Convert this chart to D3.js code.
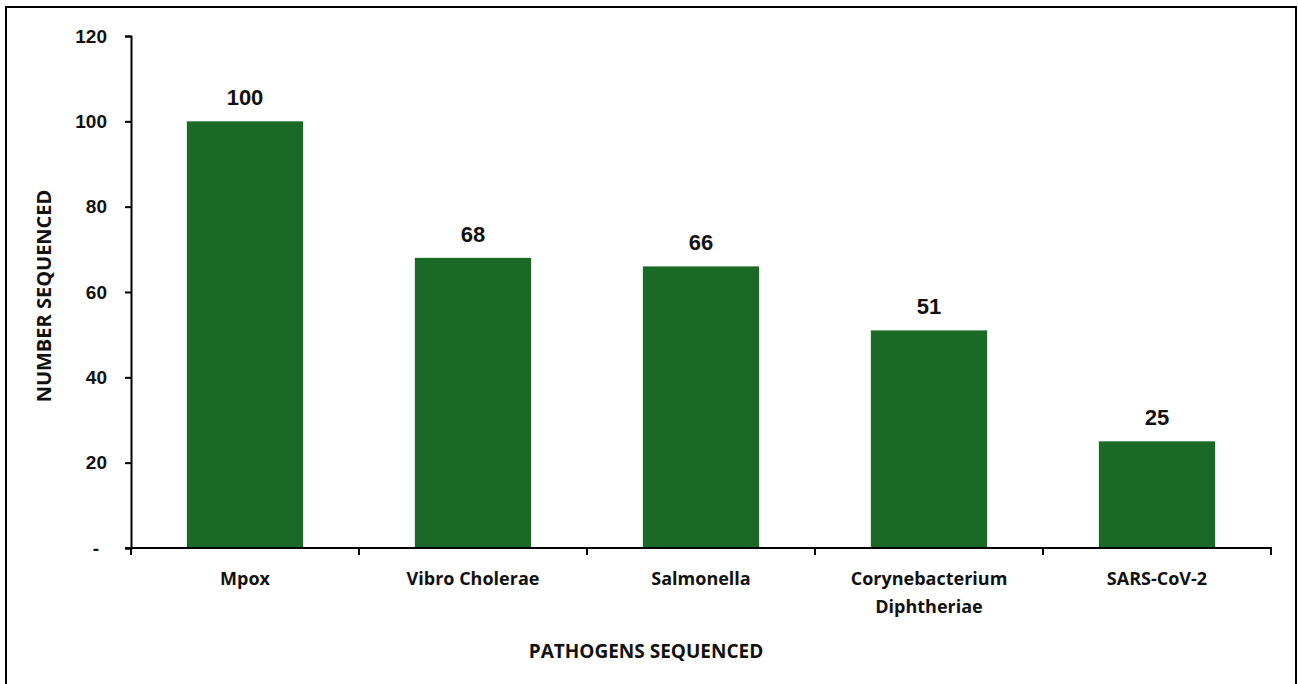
<!DOCTYPE html>
<html>
<head>
<meta charset="utf-8">
<script src="https://cdn.jsdelivr.net/npm/d3@7"></script>
<style>
  body { margin: 0; background: #fff; }
  .num { font-family: "Liberation Sans", Arial, sans-serif; font-weight: bold; fill: #111; }
  .lbl { font-family: "Open Sans", Lato, sans-serif; font-weight: bold; fill: #111; }
</style>
</head>
<body>
<div id="chart"></div>
<script>
// data
const pathogens = ['Mpox', 'Vibro Cholerae', 'Salmonella', 'Corynebacterium Diphtheriae', 'SARS-CoV-2'];
const sequenced = [100, 68, 66, 51, 25];
const yTicks = [0, 20, 40, 60, 80, 100, 120];

const W = 1298, H = 684;
const margin = {top: 36, right: 27, bottom: 136, left: 131};
const width = W - margin.left - margin.right;
const height = H - margin.top - margin.bottom;

const svg = d3.select('#chart').append('svg')
  .attr('width', W)
  .attr('height', H);

// outer frame
svg.append('rect')
  .attr('x', 6).attr('y', 7)
  .attr('width', 1290).attr('height', 700)
  .attr('fill', 'none')
  .attr('stroke', '#000')
  .attr('stroke-width', 2);

const g = svg.append('g')
  .attr('transform', `translate(${margin.left},${margin.top})`);

const x = d3.scaleBand()
  .domain(pathogens)
  .range([0, width])
  .paddingInner(0.49)
  .paddingOuter(0.245);

const y = d3.scaleLinear()
  .domain([0, 120])
  .range([height, 0]);

// bars
g.selectAll('.bar')
  .data(pathogens)
  .enter()
  .append('rect')
  .attr('class', 'bar')
  .attr('x', d => x(d))
  .attr('y', (d, i) => y(sequenced[i]))
  .attr('width', x.bandwidth())
  .attr('height', (d, i) => height - y(sequenced[i]))
  .attr('fill', '#1b6927');

// y axis
const yAxis = g.append('g')
  .call(d3.axisLeft(y).tickValues(yTicks).tickSize(6).tickPadding(18)
    .tickFormat(d => d === 0 ? '-' : d));
yAxis.select('.domain').attr('stroke', '#000').attr('stroke-width', 2);
yAxis.selectAll('.tick line').attr('stroke', '#000').attr('stroke-width', 2);
yAxis.selectAll('.tick text')
  .attr('class', 'num')
  .style('font-size', '19px')
  .attr('dx', d => d === 0 ? -8 : 0);

// x axis: ticks sit on the category boundaries
const bounds = d3.range(pathogens.length + 1).map(i => i * x.step());
const xAxis = g.append('g')
  .attr('transform', `translate(0,${height})`);
xAxis.append('line')
  .attr('x1', -6).attr('x2', width)
  .attr('stroke', '#000').attr('stroke-width', 2);
xAxis.selectAll('.xt')
  .data(bounds)
  .enter()
  .append('line')
  .attr('x1', d => d).attr('x2', d => d)
  .attr('y1', -1).attr('y2', 7)
  .attr('stroke', '#000').attr('stroke-width', 2);

// category labels (wrapped)
const wrap = {'Corynebacterium Diphtheriae': ['Corynebacterium', 'Diphtheriae']};
xAxis.selectAll('.cat')
  .data(pathogens)
  .enter()
  .append('text')
  .attr('class', 'lbl')
  .attr('text-anchor', 'middle')
  .style('font-size', '18px')
  .attr('x', d => x(d) + x.bandwidth() / 2)
  .attr('y', 37)
  .each(function(d) {
    const lines = wrap[d] || [d];
    const t = d3.select(this);
    lines.forEach((ln, i) => {
      t.append('tspan')
        .attr('x', x(d) + x.bandwidth() / 2)
        .attr('dy', i === 0 ? 0 : 28)
        .text(ln);
    });
  });

// value labels
g.selectAll('.value-label')
  .data(pathogens)
  .enter()
  .append('text')
  .attr('class', 'num')
  .attr('text-anchor', 'middle')
  .style('font-size', '22px')
  .attr('x', d => x(d) + x.bandwidth() / 2)
  .attr('y', (d, i) => y(sequenced[i]) - 16)
  .text((d, i) => sequenced[i]);

// axis titles
svg.append('text')
  .attr('class', 'lbl')
  .attr('text-anchor', 'middle')
  .style('font-size', '19px')
  .attr('x', 646)
  .attr('y', 658)
  .text('PATHOGENS SEQUENCED');

svg.append('text')
  .attr('class', 'lbl')
  .attr('text-anchor', 'middle')
  .style('font-size', '20px')
  .attr('transform', 'translate(51,296) rotate(-90)')
  .text('NUMBER SEQUENCED');
</script>
</body>
</html>
